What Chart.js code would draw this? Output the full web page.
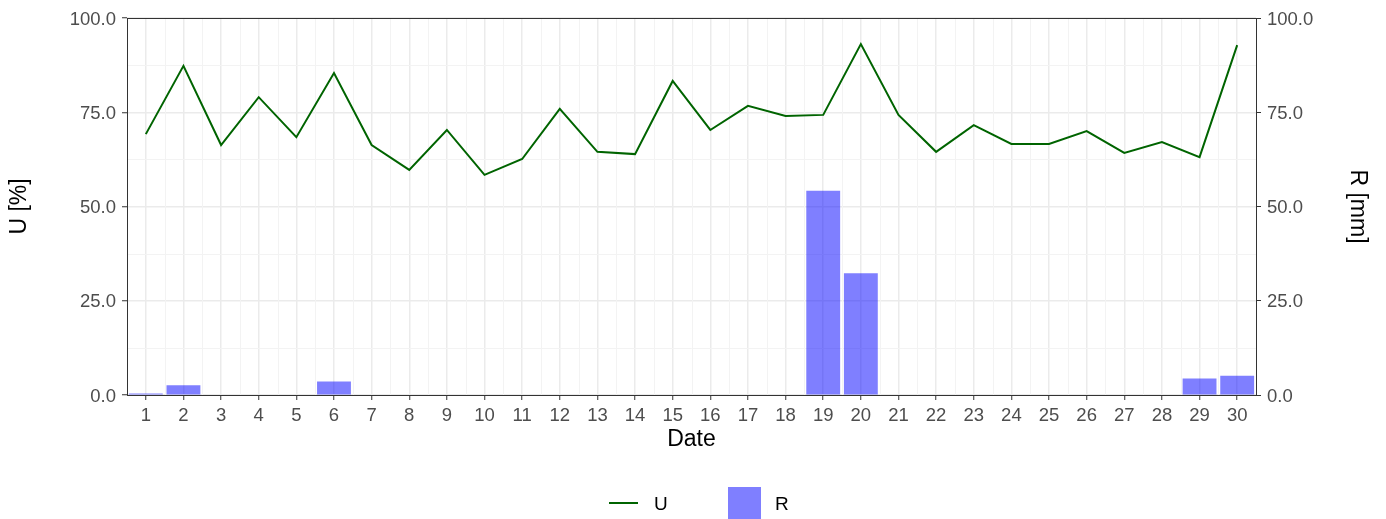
<!DOCTYPE html>
<html>
<head>
<meta charset="utf-8">
<script src="https://cdn.jsdelivr.net/npm/chart.js@4.4.1/dist/chart.umd.min.js"></script>
<style>
  html, body { margin: 0; padding: 0; background: #ffffff; }
  #wrap { width: 1386px; height: 519px; position: relative; }
</style>
</head>
<body>
<div id="wrap"><canvas id="chart"></canvas></div>
<script>
/* ── Data ─────────────────────────────────────────────── */
const days = ['1','2','3','4','5','6','7','8','9','10','11','12','13','14','15',
              '16','17','18','19','20','21','22','23','24','25','26','27','28','29','30'];

// relative humidity U [%]
const uValues = [69.2, 87.3, 66.3, 79.0, 68.4, 85.4, 66.3, 59.7, 70.3, 58.4,
                 62.6, 75.9, 64.5, 63.9, 83.3, 70.3, 76.7, 74.0, 74.3, 93.1,
                 74.3, 64.5, 71.6, 66.6, 66.6, 70.0, 64.2, 67.1, 63.1, 92.8];

// precipitation R [mm]
const rValues = [0.4, 2.6, 0, 0, 0, 3.6, 0, 0, 0, 0,
                 0, 0, 0, 0, 0, 0, 0, 0, 54.2, 32.3,
                 0, 0, 0, 0, 0, 0, 0, 0, 4.4, 5.1];

const yTicks = [0, 25, 50, 75, 100];

/* ── Theme ────────────────────────────────────────────── */
const FONT = "'Liberation Sans', Arial, sans-serif";
const theme = {
  line:     '#006400',
  bar:      'rgba(0, 0, 255, 0.5)',
  grid:     '#ebebeb',
  minor:    '#f3f3f3',
  border:   '#333333',
  tick:     '#4d4d4d',
  title:    '#000000',
};

/* ── Plugins ──────────────────────────────────────────── */
// minor grid lines (between majors), ggplot-like
const minorGrid = {
  id: 'minorGrid',
  beforeDatasetsDraw(chart) {
    const { ctx, chartArea: a, scales } = chart;
    ctx.save();
    ctx.strokeStyle = theme.minor;
    ctx.lineWidth = 1;
    ctx.beginPath();
    for (let i = 0; i < days.length - 1; i++) {
      const px = Math.round((scales.x.getPixelForValue(i) + scales.x.getPixelForValue(i + 1)) / 2) + 0.5;
      ctx.moveTo(px, a.top);
      ctx.lineTo(px, a.bottom);
    }
    for (let i = 0; i < yTicks.length - 1; i++) {
      const py = Math.round(scales.y.getPixelForValue((yTicks[i] + yTicks[i + 1]) / 2)) + 0.5;
      ctx.moveTo(a.left, py);
      ctx.lineTo(a.right, py);
    }
    ctx.stroke();
    ctx.restore();
  },
};

// panel border + bottom legend
const panelAndLegend = {
  id: 'panelAndLegend',
  afterDatasetsDraw(chart) {
    const { ctx, chartArea: a } = chart;
    ctx.save();
    ctx.strokeStyle = theme.border;
    ctx.lineWidth = 1;
    ctx.strokeRect(Math.round(a.left) + 0.5, Math.round(a.top) + 0.5,
                   Math.round(a.right - a.left), Math.round(a.bottom - a.top));
    ctx.restore();
  },
  afterDraw(chart) {
    const { ctx, width } = chart;
    const ds = chart.data.datasets;
    const cx = width / 2;
    const cy = 503;
    ctx.save();
    ctx.font = `19px ${FONT}`;
    ctx.fillStyle = '#000000';
    ctx.textBaseline = 'middle';
    // U : line key
    ctx.strokeStyle = ds[0].borderColor;
    ctx.lineWidth = 2;
    ctx.beginPath();
    ctx.moveTo(cx - 84, cy);
    ctx.lineTo(cx - 55, cy);
    ctx.stroke();
    ctx.fillText(ds[0].label, cx - 39, cy + 2);
    // R : filled key
    ctx.fillStyle = ds[1].backgroundColor;
    ctx.fillRect(cx + 35, cy - 16, 33, 32);
    ctx.fillStyle = '#000000';
    ctx.fillText(ds[1].label, cx + 82, cy + 2);
    ctx.restore();
  },
};

/* ── Chart ────────────────────────────────────────────── */
const tickFont  = { family: FONT, size: 18.5 };
const titleFont = { family: FONT, size: 23 };

new Chart(document.getElementById('chart'), {
  type: 'bar',
  data: {
    labels: days,
    datasets: [
      {
        type: 'line',
        label: 'U',
        data: uValues,
        yAxisID: 'y',
        borderColor: theme.line,
        backgroundColor: theme.line,
        borderWidth: 2,
        pointRadius: 0,
        tension: 0,
        order: 0,
      },
      {
        type: 'bar',
        label: 'R',
        data: rValues,
        yAxisID: 'y1',
        backgroundColor: theme.bar,
        borderWidth: 0,
        categoryPercentage: 1.0,
        barPercentage: 0.9,
        order: 1,
      },
    ],
  },
  options: {
    responsive: true,
    maintainAspectRatio: false,
    animation: false,
    layout: { padding: { top: 18, left: 0, right: 0, bottom: 64 } },
    plugins: {
      legend: { display: false },
      tooltip: { enabled: false },
    },
    scales: {
      x: {
        type: 'category',
        offset: true,
        afterFit: (s) => { s.height = 60; },
        grid: {
          offset: false,
          color: theme.grid,
          lineWidth: 1.5,
          tickColor: theme.border,
          tickWidth: 1,
          tickLength: 5,
        },
        border: { display: false },
        ticks: {
          color: theme.tick,
          font: tickFont,
          padding: 4.5,
          maxRotation: 0,
          autoSkip: false,
        },
        title: {
          display: true,
          text: 'Date',
          color: theme.title,
          font: titleFont,
          padding: { top: 0, bottom: 2 },
        },
      },
      y: {
        position: 'left',
        min: 0,
        max: 100,
        afterFit: (s) => { s.width = 127; },
        afterBuildTicks: (s) => { s.ticks = yTicks.map(v => ({ value: v })); },
        grid: {
          color: theme.grid,
          lineWidth: 1.5,
          tickColor: theme.border,
          tickWidth: 1,
          tickLength: 5,
        },
        border: { display: false },
        ticks: {
          color: theme.tick,
          font: tickFont,
          padding: 6,
          labelOffset: 1.5,
          callback: (v) => Number(v).toFixed(1),
        },
        title: {
          display: true,
          text: 'U [%]',
          color: theme.title,
          font: titleFont,
          padding: { top: 6, bottom: 0 },
        },
      },
      y1: {
        position: 'right',
        min: 0,
        max: 100,
        afterFit: (s) => { s.width = 130; },
        afterBuildTicks: (s) => { s.ticks = yTicks.map(v => ({ value: v })); },
        grid: {
          drawOnChartArea: false,
          tickColor: theme.border,
          tickWidth: 1,
          tickLength: 5,
        },
        border: { display: false },
        ticks: {
          color: theme.tick,
          font: tickFont,
          padding: 6,
          labelOffset: 1.5,
          callback: (v) => Number(v).toFixed(1),
        },
        title: {
          display: true,
          text: 'R [mm]',
          color: theme.title,
          font: titleFont,
          padding: { top: 15, bottom: 0 },
        },
      },
    },
  },
  plugins: [minorGrid, panelAndLegend],
});
</script>
</body>
</html>
